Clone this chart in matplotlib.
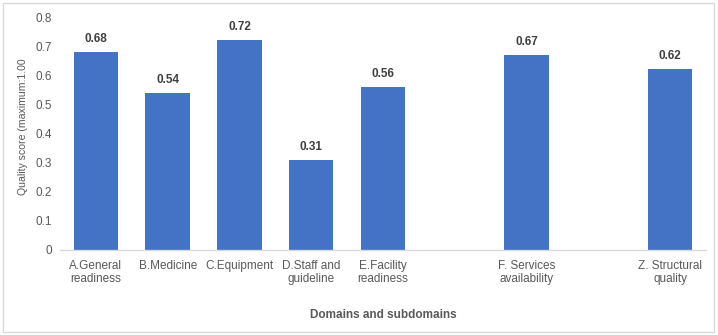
import matplotlib
matplotlib.use("Agg")
import matplotlib.pyplot as plt
from matplotlib.patches import Rectangle

categories = ["A.General\nreadiness", "B.Medicine", "C.Equipment", "D.Staff and\nguideline",
              "E.Facility\nreadiness", "F. Services\navailability", "Z. Structural\nquality"]
values = [0.68, 0.54, 0.72, 0.31, 0.56, 0.67, 0.62]
yticks = [0, 0.1, 0.2, 0.3, 0.4, 0.5, 0.6, 0.7, 0.8]
ytick_labels = ["0", "0.1", "0.2", "0.3", "0.4", "0.5", "0.6", "0.7", "0.8"]

# slot indices (two empty slots separate the domain groups)
slots = [0, 1, 2, 3, 4, 6, 8]

plt.rcParams['font.family'] = ['Liberation Sans', 'DejaVu Sans']

fig = plt.figure(figsize=(7.18, 3.35), dpi=100)
ax = fig.add_axes([60/718, 1-250/335, (706-60)/718, (250-17)/335])

bars = ax.bar(slots, values, width=0.62, color="#4472C4", zorder=2)
for x, v in zip(slots, values):
    ax.text(x, v + 0.024, f"{v:.2f}", ha="center", va="bottom",
            fontsize=8.5, fontweight="bold", color="#404040")

ax.set_xlim(-0.5, 8.5)
ax.set_ylim(0, 0.8)
ax.set_yticks(yticks)
ax.set_yticklabels(ytick_labels)
ax.set_xticks(slots)
ax.set_xticklabels(categories, linespacing=1.15)
ax.tick_params(axis="both", length=0, labelsize=8.5, colors="#595959")
ax.tick_params(axis="x", pad=7)
ax.tick_params(axis="y", pad=6)
for s in ["top", "right", "left"]:
    ax.spines[s].set_visible(False)
ax.spines["bottom"].set_color("#D9D9D9")
ax.spines["bottom"].set_linewidth(1)

ax.set_ylabel("Quality score (maximum:1.00", fontsize=7.6, color="#595959")
ax.yaxis.set_label_coords(-0.049, 0.53)
ax.set_xlabel("Domains and subdomains", fontsize=8.5, fontweight="bold", color="#595959", labelpad=17)

fig.patches.append(Rectangle((3/718, 3/335), (714-3)/718, (332-3)/335,
                             transform=fig.transFigure, fill=False,
                             edgecolor="#D9D9D9", linewidth=1))

fig.savefig("out.png", dpi=100)
